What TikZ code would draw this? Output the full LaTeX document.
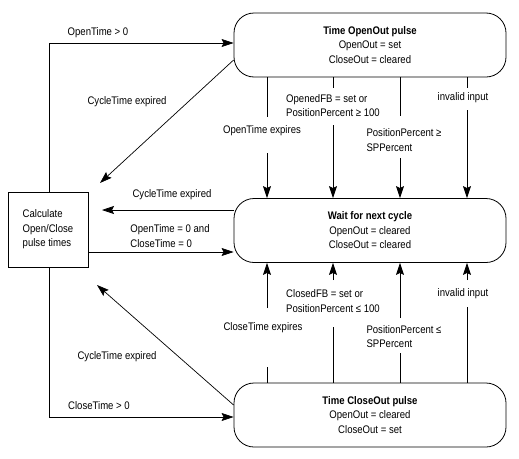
\documentclass[tikz,border=0pt]{standalone}
\usepackage{fontspec}
\setmainfont{Liberation Sans}[FakeStretch=0.87]
\usetikzlibrary{arrows.meta}
\begin{document}
\begin{tikzpicture}[x=1pt,y=-1pt,
  every node/.style={font=\fontsize{11}{14.5}\selectfont, inner sep=0pt},
  state/.style={draw, line width=0.8pt, rounded corners=20pt, minimum width=272pt, minimum height=64pt, align=center},
  calcbox/.style={draw, line width=0.8pt, minimum width=80pt, minimum height=75pt, align=left},
  lbl/.style={align=left},
  conn/.style={line width=0.7pt},
  arr/.style={line width=0.7pt, -{Stealth[length=12pt,width=8pt,inset=2pt]}}]
\useasboundingbox (0,0) rectangle (519,458);

% state nodes
\node[state] (top) at (370,45) {\textbf{Time OpenOut pulse}\\OpenOut = set\\CloseOut = cleared};
\node[state] (mid) at (370,230.5) {\textbf{Wait for next cycle}\\OpenOut = cleared\\CloseOut = cleared};
\node[state] (bot) at (370,415) {\textbf{Time CloseOut pulse}\\OpenOut = cleared\\CloseOut = set};
\node[calcbox] (calc) at (48,229.5) {Calculate\\Open/Close\\pulse times};

% left connectors
\coordinate (c1) at (49,43);
\draw[arr] (calc.north -| c1) -- (c1) -- (top.west |- c1);
\node at (98,33) (l1) {OpenTime > 0};
\coordinate (c2) at (49,417);
\draw[arr] (calc.south -| c2) -- (c2) -- (bot.west |- c2);
\node at (99,406) (l2) {CloseTime > 0};

\coordinate (d1) at (100,183);
\draw[arr] (top.west |- 0,60) -- (d1);
\node at (127,102) (l3) {CycleTime expired};
\coordinate (d2) at (97,285);
\draw[arr] (bot.west |- 0,405) -- (d2);
\node at (117,357) (l4) {CycleTime expired};

\coordinate (d3) at (102,210);
\draw[arr] (mid.west |- d3) -- (d3);
\node at (172,195) (l5) {CycleTime expired};
\draw[arr] (calc.east |- 0,252) -- (mid.west |- 0,252);
\node[lbl] at (170,236) (l6) {OpenTime = 0 and\\CloseTime = 0};

% top -> mid vertical connectors
\coordinate (a1) at (267,117); \coordinate (b1) at (267,153);
\draw[conn] (top.south -| a1) -- (a1);
\draw[arr] (b1) -- (mid.north -| b1);
\node at (262,131) (t1) {OpenTime expires};

\coordinate (a2) at (333,88); \coordinate (b2) at (333,125);
\draw[conn] (top.south -| a2) -- (a2);
\draw[arr] (b2) -- (mid.north -| b2);
\node[lbl] at (333,105.5) (t2) {OpenedFB = set or\\PositionPercent ≥ 100};

\coordinate (a3) at (400,116); \coordinate (b3) at (400,158);
\draw[conn] (top.south -| a3) -- (a3);
\draw[arr] (b3) -- (mid.north -| b3);
\node[lbl] at (404,140) (t3) {PositionPercent ≥\\SPPercent};

\coordinate (a4) at (467,88); \coordinate (b4) at (467,110);
\draw[conn] (top.south -| a4) -- (a4);
\draw[arr] (b4) -- (mid.north -| b4);
\node at (463,98) (t4) {invalid input};

% bot -> mid vertical connectors
\coordinate (e1) at (267,367); \coordinate (f1) at (267,308);
\draw[conn] (bot.north -| e1) -- (e1);
\draw[arr] (f1) -- (mid.south -| f1);
\node at (263,328) (u1) {CloseTime expires};

\coordinate (e2) at (333,327); \coordinate (f2) at (333,280);
\draw[conn] (bot.north -| e2) -- (e2);
\draw[arr] (f2) -- (mid.south -| f2);
\node[lbl] at (333,301) (u2) {ClosedFB = set or\\PositionPercent ≤ 100};

\coordinate (e3) at (400,353); \coordinate (f3) at (400,318);
\draw[conn] (bot.north -| e3) -- (e3);
\draw[arr] (f3) -- (mid.south -| f3);
\node[lbl] at (404,336.5) (u3) {PositionPercent ≤\\SPPercent};

\coordinate (e4) at (467,307); \coordinate (f4) at (467,280);
\draw[conn] (bot.north -| e4) -- (e4);
\draw[arr] (f4) -- (mid.south -| f4);
\node at (463,294) (u4) {invalid input};
\end{tikzpicture}
\end{document}
